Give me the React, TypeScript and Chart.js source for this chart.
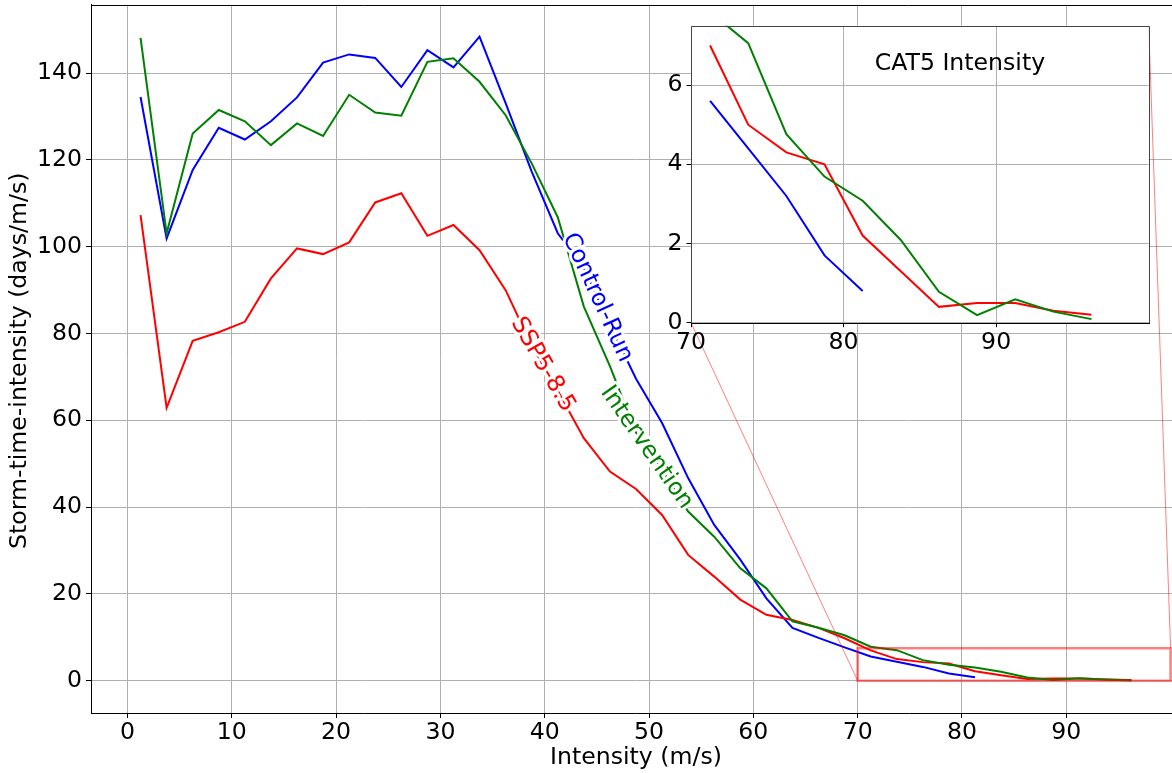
import React, { useEffect, useRef } from "react";
import { Chart, registerables } from "chart.js";

Chart.register(...registerables);

const FONT = "'DejaVu Sans', 'Liberation Sans', sans-serif";

// Intensity bin centres (m/s)
const intensity = [
  1.25, 3.75, 6.25, 8.75, 11.25, 13.75, 16.25, 18.75, 21.25, 23.75,
  26.25, 28.75, 31.25, 33.75, 36.25, 38.75, 41.25, 43.75, 46.25, 48.75,
  51.25, 53.75, 56.25, 58.75, 61.25, 63.75, 66.25, 68.75, 71.25, 73.75,
  76.25, 78.75, 81.25, 83.75, 86.25, 88.75, 91.25, 93.75, 96.25,
];

// Storm-time-intensity (days/m/s)
const controlRun = [
  134.5, 101.9, 117.7, 127.4, 124.7, 128.9, 134.4, 142.4, 144.3, 143.5,
  136.8, 145.3, 141.3, 148.4, 133.1, 117.3, 103.1, 95.1, 82.0, 69.6,
  59.4, 46.7, 35.9, 27.9, 19.0, 12.2, 9.9, 7.7, 5.6, 4.4,
  3.2, 1.7, 0.8,
];

const ssp585 = [
  107.3, 62.9, 78.3, 80.3, 82.7, 92.7, 99.6, 98.3, 101.0, 110.2,
  112.3, 102.5, 105.0, 99.2, 90.0, 77.2, 66.8, 55.9, 48.2, 44.2,
  38.2, 29.0, 24.0, 18.7, 15.2, 14.0, 12.2, 9.8, 7.0, 5.0,
  4.3, 4.0, 2.2, 1.3, 0.4, 0.5, 0.5, 0.3, 0.2,
];

const intervention = [
  148.1, 103.1, 126.1, 131.5, 128.9, 123.4, 128.4, 125.5, 135.0, 130.9,
  130.2, 142.6, 143.4, 138.0, 130.3, 119.2, 106.8, 86.2, 72.5, 57.2,
  48.6, 39.0, 33.2, 25.9, 21.3, 13.7, 12.2, 10.5, 7.85, 7.06,
  4.76, 3.69, 3.08, 2.09, 0.78, 0.19, 0.59, 0.28, 0.09,
];

const seriesNames = ["Control-Run", "SSP5-8.5", "Intervention"];
const seriesColors = ["#0000ff", "#ff0000", "#008000"];
// x position (m/s) of the inline series labels
const inlineLabelX = [45.05, 39.8, 49.75];

const mainXTicks = [0, 10, 20, 30, 40, 50, 60, 70, 80, 90];
const mainYTicks = [0, 20, 40, 60, 80, 100, 120, 140];
const insetXTicks = [70, 80, 90];
const insetYTicks = [0, 2, 4, 6];

const xTitle = "Intensity (m/s)";
const yTitle = "Storm-time-intensity (days/m/s)";
const insetTitle = "CAT5 Intensity";

const zoomX = [70, 100];
const zoomY = [0, 7.5];

const FS = 23.6;

const pts = (ys: number[], minX = -Infinity) =>
  ys.map((y, i) => ({ x: intensity[i], y })).filter((p) => p.x >= minX);

const makeDatasets = (minX = -Infinity) =>
  [
    { label: seriesNames[0], data: pts(controlRun, minX), borderColor: seriesColors[0], order: 2 },
    { label: seriesNames[1], data: pts(ssp585, minX), borderColor: seriesColors[1], order: 1 },
    { label: seriesNames[2], data: pts(intervention, minX), borderColor: seriesColors[2], order: 0 },
  ].map((d) => ({
    ...d,
    borderWidth: 2,
    pointRadius: 0,
    fill: false,
    tension: 0,
    backgroundColor: d.borderColor,
  }));

const zeroPad = (s: any) => {
  s.paddingTop = 0;
  s.paddingBottom = 0;
  s.paddingLeft = 0;
  s.paddingRight = 0;
};

export default function App() {
  const mainRef = useRef<HTMLCanvasElement>(null);
  const insetRef = useRef<HTMLCanvasElement>(null);

  useEffect(() => {
    Chart.defaults.font.family = FONT;
    Chart.defaults.color = "#000";

    const mainDecor = {
      id: "mainDecor",
      afterDatasetsDraw(chart: any) {
        const { ctx, chartArea } = chart;
        const xs = chart.scales.x;
        const ys = chart.scales.y;
        // zoom rectangle
        ctx.save();
        ctx.strokeStyle = "rgba(255,0,0,0.5)";
        ctx.lineWidth = 2.5;
        const rx0 = xs.getPixelForValue(zoomX[0]);
        const rx1 = xs.getPixelForValue(zoomX[1]);
        const ry0 = ys.getPixelForValue(zoomY[0]);
        const ry1 = ys.getPixelForValue(zoomY[1]);
        ctx.strokeRect(rx0, ry1, rx1 - rx0, ry0 - ry1);
        ctx.restore();

        // inline labels
        ctx.save();
        ctx.font = `${FS}px ${FONT}`;
        ctx.textAlign = "center";
        ctx.textBaseline = "middle";
        seriesNames.forEach((name, i) => {
          const meta = chart.getDatasetMeta(i);
          const p = meta.data;
          const px = xs.getPixelForValue(inlineLabelX[i]);
          for (let k = 0; k < p.length - 1; k++) {
            if (p[k].x <= px && px <= p[k + 1].x) {
              const t = (px - p[k].x) / (p[k + 1].x - p[k].x);
              const py = p[k].y + t * (p[k + 1].y - p[k].y);
              const ang = Math.atan2(p[k + 1].y - p[k].y, p[k + 1].x - p[k].x);
              ctx.save();
              ctx.translate(px, py);
              ctx.rotate(ang);
              ctx.lineJoin = "round";
              ctx.lineWidth = 6;
              ctx.strokeStyle = "#fff";
              ctx.strokeText(name, 0, 0);
              ctx.fillStyle = seriesColors[i];
              ctx.fillText(name, 0, 0);
              ctx.restore();
              break;
            }
          }
        });
        ctx.restore();

        // top spine
        ctx.save();
        ctx.strokeStyle = "#000";
        ctx.lineWidth = 1;
        ctx.beginPath();
        const ty = Math.round(chartArea.top) + 0.5;
        ctx.moveTo(chartArea.left, ty);
        ctx.lineTo(chartArea.right, ty);
        ctx.stroke();
        ctx.restore();

        // axis titles
        ctx.save();
        ctx.fillStyle = "#000";
        ctx.font = `${FS}px ${FONT}`;
        ctx.textAlign = "center";
        ctx.textBaseline = "middle";
        ctx.fillText(xTitle, (chartArea.left + chartArea.right) / 2, 758);
        ctx.translate(20, (chartArea.top + chartArea.bottom) / 2 + 2);
        ctx.rotate(-Math.PI / 2);
        ctx.fillText(yTitle, 0, 0);
        ctx.restore();
      },
    };

    const main = new Chart(mainRef.current as HTMLCanvasElement, {
      type: "line",
      data: { datasets: makeDatasets() as any },
      options: {
        responsive: false,
        animation: false,
        devicePixelRatio: 1,
        layout: { padding: { left: 0, top: 4.5, right: 19, bottom: 0 } },
        plugins: { legend: { display: false }, tooltip: { enabled: false } },
        scales: {
          x: {
            type: "linear",
            min: -3.5,
            max: 101,
            afterBuildTicks: (s: any) => {
              s.ticks = mainXTicks.map((v) => ({ value: v }));
            },
            afterFit: (s: any) => {
              s.height = 60;
              zeroPad(s);
            },
            grid: { color: "#b0b0b0", lineWidth: 1, tickLength: 5, tickColor: "#000", drawTicks: true },
            border: { display: true, color: "#000", width: 1 },
            ticks: {
              font: { size: FS },
              padding: 1,
              maxRotation: 0,
              autoSkip: false,
              color: "#000",
              callback: (v: any) => String(v),
            },
          },
          y: {
            type: "linear",
            min: -7.42,
            max: 155.8,
            afterBuildTicks: (s: any) => {
              s.ticks = mainYTicks.map((v) => ({ value: v }));
            },
            afterFit: (s: any) => {
              s.width = 91;
              zeroPad(s);
            },
            grid: { color: "#b0b0b0", lineWidth: 1, tickLength: 5, tickColor: "#000", drawTicks: true },
            border: { display: true, color: "#000", width: 1 },
            ticks: {
              font: { size: FS },
              padding: 4,
              autoSkip: false,
              color: "#000",
              callback: (v: any) => String(v),
            },
          },
        },
      },
      plugins: [mainDecor],
    } as any);

    const insetDecor = {
      id: "insetDecor",
      beforeDraw(chart: any) {
        const { ctx, chartArea } = chart;
        const mx = main.scales.x;
        const my = main.scales.y;
        ctx.save();
        // connectors
        ctx.strokeStyle = "rgba(255,0,0,0.5)";
        ctx.lineWidth = 1;
        ctx.beginPath();
        ctx.moveTo(mx.getPixelForValue(zoomX[0]), my.getPixelForValue(zoomY[0]));
        ctx.lineTo(chartArea.left, chartArea.bottom);
        ctx.moveTo(mx.getPixelForValue(zoomX[1]), my.getPixelForValue(zoomY[1]));
        ctx.lineTo(chartArea.right, chartArea.top);
        ctx.stroke();
        // white axes background
        ctx.fillStyle = "#fff";
        ctx.fillRect(chartArea.left, chartArea.top, chartArea.right - chartArea.left, chartArea.bottom - chartArea.top);
        ctx.restore();
      },
      afterDraw(chart: any) {
        const { ctx, chartArea } = chart;
        const { left, right, top, bottom } = chartArea;
        ctx.save();
        ctx.lineWidth = 1;
        ctx.strokeStyle = "#444";
        ctx.beginPath();
        ctx.moveTo(Math.round(left) + 0.5, Math.round(bottom) + 0.5);
        ctx.lineTo(Math.round(left) + 0.5, Math.round(top) + 0.5);
        ctx.lineTo(Math.round(right) + 0.5, Math.round(top) + 0.5);
        ctx.lineTo(Math.round(right) + 0.5, Math.round(bottom) + 0.5);
        ctx.stroke();
        ctx.strokeStyle = "#000";
        ctx.beginPath();
        ctx.moveTo(Math.round(left), Math.round(bottom) + 0.5);
        ctx.lineTo(Math.round(right) + 1, Math.round(bottom) + 0.5);
        ctx.stroke();
        // title
        ctx.fillStyle = "#000";
        ctx.font = `${FS}px ${FONT}`;
        ctx.textAlign = "center";
        ctx.textBaseline = "alphabetic";
        ctx.fillText(insetTitle, left + 0.5875 * (right - left), top + 44);
        ctx.restore();
      },
    };

    const insetTop = 25.7;
    const insetBottom = 322.7;
    const insetXH = 40;
    const inset = new Chart(insetRef.current as HTMLCanvasElement, {
      type: "line",
      data: { datasets: makeDatasets(zoomX[0]) as any },
      options: {
        responsive: false,
        animation: false,
        devicePixelRatio: 1,
        layout: { padding: { left: 600, top: insetTop, right: 1172 - 1148.7, bottom: 773 - insetBottom - insetXH } },
        plugins: { legend: { display: false }, tooltip: { enabled: false } },
        scales: {
          x: {
            type: "linear",
            min: zoomX[0],
            max: zoomX[1],
            afterBuildTicks: (s: any) => {
              s.ticks = insetXTicks.map((v) => ({ value: v }));
            },
            afterFit: (s: any) => {
              s.height = insetXH;
              zeroPad(s);
            },
            grid: { color: "#b0b0b0", lineWidth: 1, tickLength: 4.5, tickColor: "#000", drawTicks: true },
            border: { display: false },
            ticks: {
              font: { size: FS },
              padding: 1,
              maxRotation: 0,
              autoSkip: false,
              color: "#000",
              callback: (v: any) => String(v),
            },
          },
          y: {
            type: "linear",
            min: zoomY[0],
            max: zoomY[1],
            afterBuildTicks: (s: any) => {
              s.ticks = insetYTicks.map((v) => ({ value: v }));
            },
            afterFit: (s: any) => {
              s.width = 91;
              zeroPad(s);
            },
            grid: { color: "#b0b0b0", lineWidth: 1, tickLength: 4.5, tickColor: "#000", drawTicks: true },
            border: { display: false },
            ticks: {
              font: { size: FS },
              padding: 4,
              autoSkip: false,
              color: "#000",
              callback: (v: any) => String(v),
            },
          },
        },
      },
      plugins: [insetDecor],
    } as any);

    return () => {
      inset.destroy();
      main.destroy();
    };
  }, []);

  return (
    <div
      style={{
        position: "absolute",
        left: 0,
        top: 0,
        width: 1172,
        height: 773,
        overflow: "hidden",
        background: "#fff",
      }}
    >
      <canvas ref={mainRef} width={1200} height={773} style={{ position: "absolute", left: 0, top: 0 }} />
      <canvas ref={insetRef} width={1172} height={773} style={{ position: "absolute", left: 0, top: 0 }} />
    </div>
  );
}
